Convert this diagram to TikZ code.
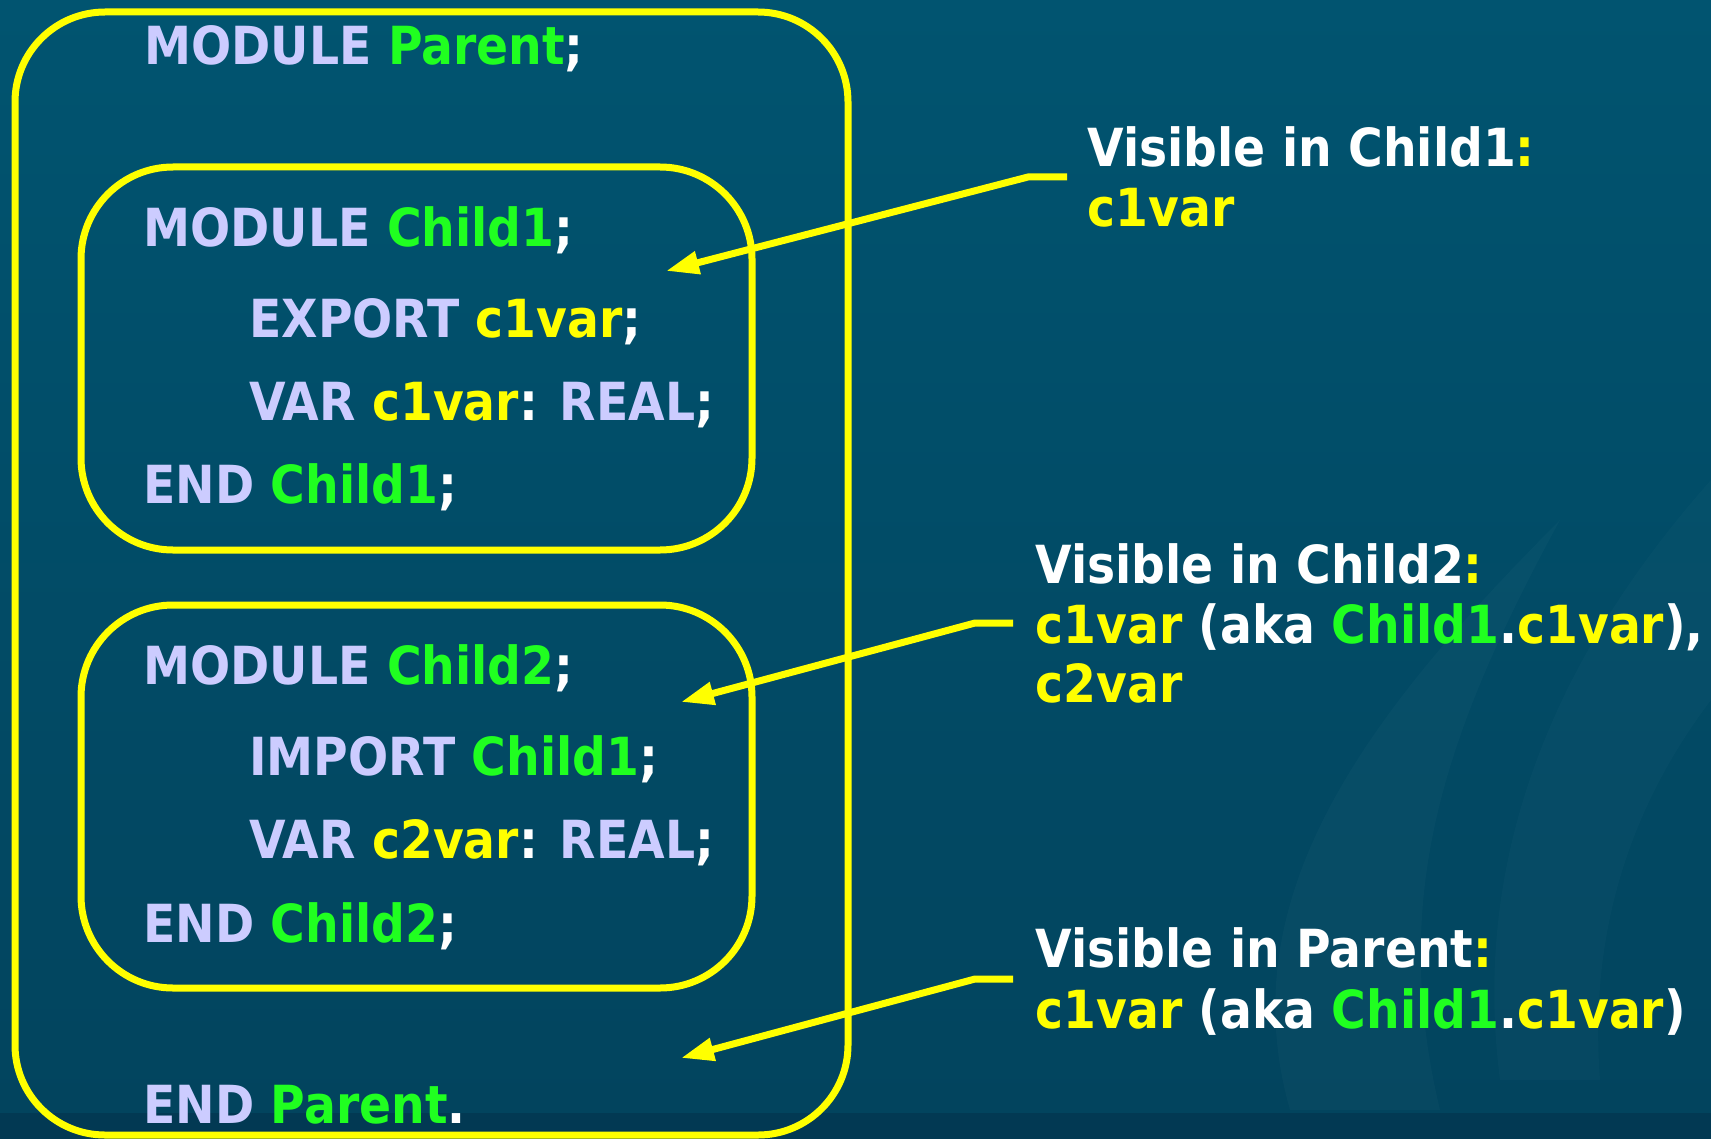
\documentclass[tikz,border=0pt]{standalone}
\usepackage{fontspec}
\setmainfont{DejaVu Sans}[FakeStretch=0.9]
\usepackage{tikz}
\usepackage{xcolor}
\usetikzlibrary{arrows.meta}

\definecolor{slidebg}{RGB}{1,84,112}
\definecolor{slidebgdark}{RGB}{2,68,94}
\definecolor{slideband}{RGB}{2,57,83}
\definecolor{kwlav}{RGB}{204,204,255}
\definecolor{modgreen}{RGB}{32,255,32}
\definecolor{boxyellow}{RGB}{255,255,0}

\newcommand{\mname}[1]{\textcolor{modgreen}{#1}}
\newcommand{\vname}[1]{\textcolor{boxyellow}{#1}}
\newcommand{\pct}[1]{\textcolor{white}{#1}}

\tikzset{
  codeline/.style={anchor=base west, inner sep=0pt, text=kwlav,
    font=\fontsize{26.25}{30}\selectfont\bfseries},
  note/.style={codeline, text=white},
  modbox/.style={draw=boxyellow, line width=3.5pt},
  link/.style={draw=boxyellow, line width=3.5pt,
    -{Triangle[length=16.5pt,width=11pt]}}
}

\begin{document}
\begin{tikzpicture}[x=0.5pt,y=-0.5pt]
  \useasboundingbox (0,0) rectangle (1711,1139);
  % Slide background
  \shade[top color=slidebg, bottom color=slidebgdark] (0,0) rectangle (1711,1113);
  \fill[slideband] (0,1113) rectangle (1711,1139);
  \fill[white, opacity=0.025] (1290,1110) .. controls (1230,900) and (1360,720) .. (1560,520)
    .. controls (1440,740) and (1390,900) .. (1440,1110) -- cycle;
  \fill[white, opacity=0.02] (1500,1080) .. controls (1470,850) and (1560,650) .. (1711,480)
    -- (1711,700) .. controls (1620,820) and (1590,950) .. (1600,1080) -- cycle;

  % Module boxes
  \draw[modbox, rounded corners=45pt] (15,12) rectangle (848,1135);
  \draw[modbox, rounded corners=46pt] (81,167) rectangle (752,550);
  \draw[modbox, rounded corners=46pt] (81,605) rectangle (752,988);

  % Parent module
  \node[codeline] (parenthead) at (144,65) {MODULE \mname{Parent}\pct{;}};
  \node[codeline] (parentend) at (143,1123) {END \mname{Parent}\pct{.}};
  % Child1
  \node[codeline] (c1head) at (143,246) {MODULE \mname{Child1}\pct{;}};
  \node[codeline] (c1export) at (249,337) {EXPORT \vname{c1var}\pct{;}};
  \node[codeline] (c1decl) at (249,420) {VAR \vname{c1var}\pct{:} REAL\pct{;}};
  \node[codeline] (c1end) at (143,503) {END \mname{Child1}\pct{;}};
  % Child2
  \node[codeline] (c2head) at (143,684) {MODULE \mname{Child2}\pct{;}};
  \node[codeline] (c2import) at (249,775) {IMPORT \mname{Child1}\pct{;}};
  \node[codeline] (c2decl) at (249,858) {VAR \vname{c2var}\pct{:} REAL\pct{;}};
  \node[codeline] (c2end) at (143,942) {END \mname{Child2}\pct{;}};

  % Visibility notes
  \node[note] (seechild1) at (1087,167) {Visible in Child1\vname{:}};
  \node[note] (seechild1b) at (1087,227) {\vname{c1var}};
  \node[note] (seechild2) at (1035,583) {Visible in Child2\vname{:}};
  \node[note] (seechild2b) at (1035,643) {\vname{c1var} (aka \mname{Child1}.\vname{c1var}),};
  \node[note] (seechild2c) at (1035,702) {\vname{c2var}};
  \node[note] (seeparent) at (1035,967) {Visible in Parent\vname{:}};
  \node[note] (seeparentb) at (1035,1028) {\vname{c1var} (aka \mname{Child1}.\vname{c1var})};

  % Arrows into the scopes
  \coordinate (a1start) at (1067,177);
  \coordinate (a1bend) at (1028,177);
  \coordinate (a1tip) at (666,271);
  \draw[link] (a1start) -- (a1bend) -- (a1tip);
  \coordinate (a2start) at (1013,623);
  \coordinate (a2bend) at (975,623);
  \coordinate (a2tip) at (681,702);
  \draw[link] (a2start) -- (a2bend) -- (a2tip);
  \coordinate (a3start) at (1013,979);
  \coordinate (a3bend) at (975,979);
  \coordinate (a3tip) at (681,1058);
  \draw[link] (a3start) -- (a3bend) -- (a3tip);
\end{tikzpicture}
\end{document}
